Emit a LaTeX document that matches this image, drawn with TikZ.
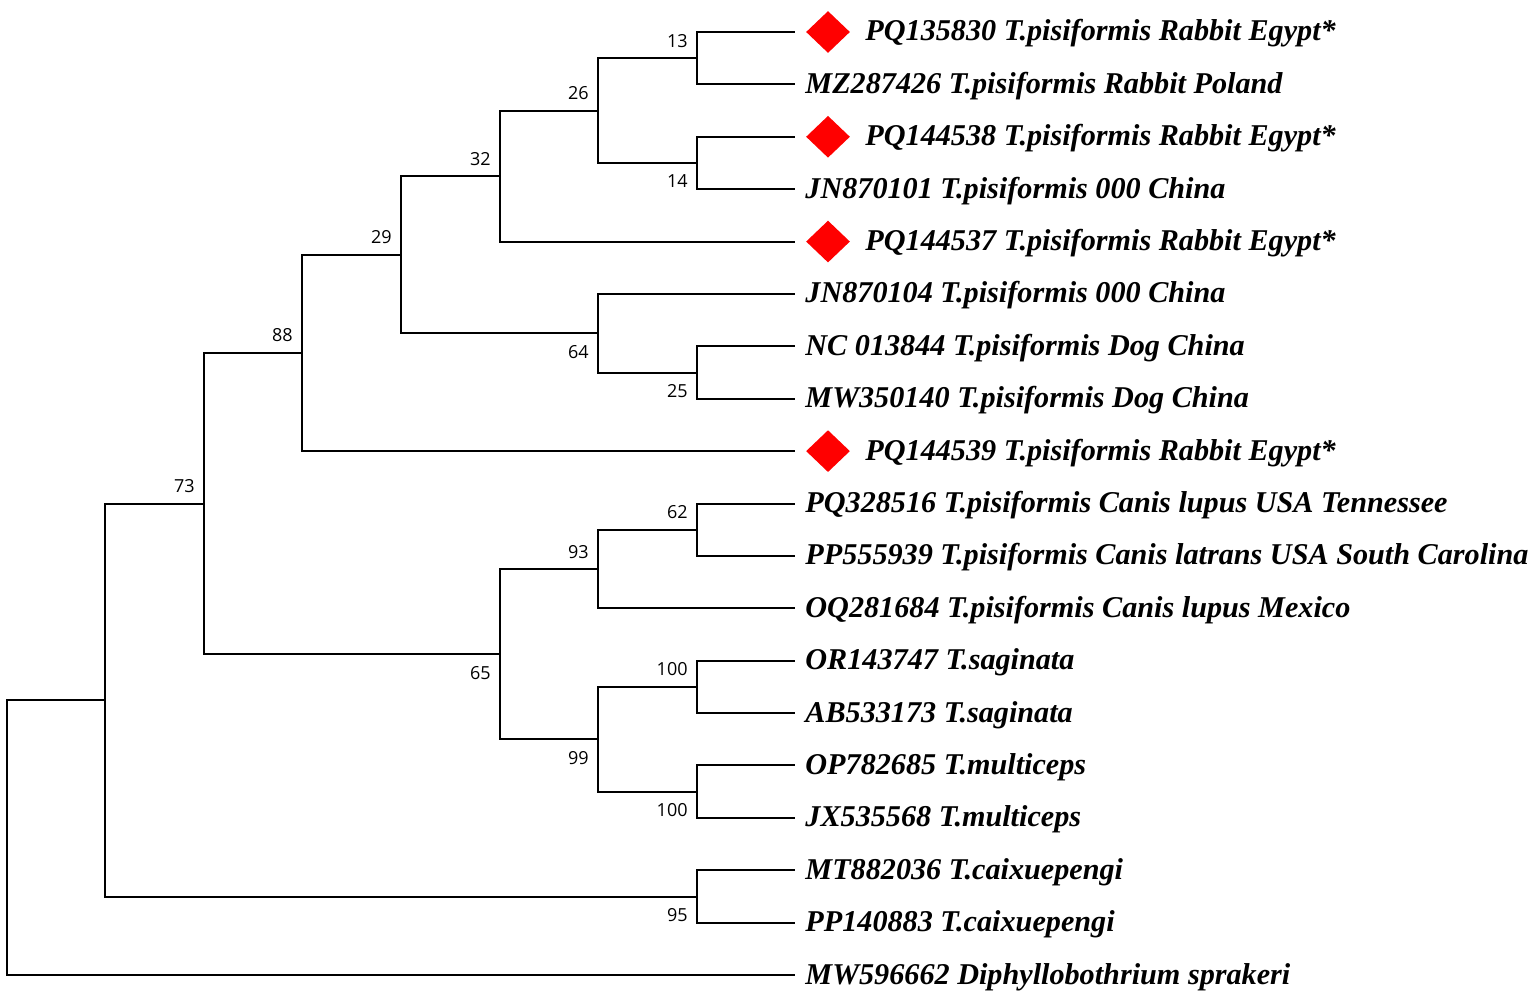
\documentclass[tikz,border=0pt]{standalone}
\usepackage{fontspec}
\setmainfont{Liberation Serif}
\newfontfamily\bootfont{Open Sans}
\usetikzlibrary{shapes.geometric}
\begin{document}
\begin{tikzpicture}[x=0.5pt,y=-0.5pt,
  branch/.style={line width=1pt,black},
  leaflabel/.style={anchor=base west,inner sep=0pt,font=\fontsize{15.1}{17}\selectfont\bfseries\itshape},
  boot/.style={inner sep=0pt,font=\bootfont\fontsize{9}{10}\selectfont},
  bootup/.style={boot,anchor=base east},
  bootdn/.style={boot,anchor=base east},
  mark diamond/.style={diamond,fill=red,draw=none,inner sep=0pt,minimum width=22pt,minimum height=21pt}]
\useasboundingbox (0,0) rectangle (1536,1000);
% leaf ends
\foreach \i in {1,...,19}{
  \coordinate (L\i) at (795,{32+52.39*(\i-1)});
}
% internal nodes
\coordinate (n13) at (697,58.2);
\coordinate (n14) at (697,163.0);
\coordinate (n26) at (598,110.6);
\coordinate (n32) at (500,176.1);
\coordinate (n25) at (697,372.5);
\coordinate (n64) at (598,333.2);
\coordinate (n29) at (401,254.7);
\coordinate (n88) at (302,352.9);
\coordinate (n62) at (697,529.7);
\coordinate (n93) at (598,569.0);
\coordinate (na) at (697,686.9);
\coordinate (nb) at (697,791.7);
\coordinate (n99) at (598,739.3);
\coordinate (n65) at (500,654.2);
\coordinate (n73) at (204,503.5);
\coordinate (n95) at (697,896.5);
\coordinate (nR) at (105,700.0);
\coordinate (root) at (7,837.5);
% branches
\draw[branch] (n13) |- (L1); \draw[branch] (n13) |- (L2);
\draw[branch] (n14) |- (L3); \draw[branch] (n14) |- (L4);
\draw[branch] (n26) |- (n13); \draw[branch] (n26) |- (n14);
\draw[branch] (n32) |- (n26); \draw[branch] (n32) |- (L5);
\draw[branch] (n25) |- (L7); \draw[branch] (n25) |- (L8);
\draw[branch] (n64) |- (L6); \draw[branch] (n64) |- (n25);
\draw[branch] (n29) |- (n32); \draw[branch] (n29) |- (n64);
\draw[branch] (n88) |- (n29); \draw[branch] (n88) |- (L9);
\draw[branch] (n62) |- (L10); \draw[branch] (n62) |- (L11);
\draw[branch] (n93) |- (n62); \draw[branch] (n93) |- (L12);
\draw[branch] (na) |- (L13); \draw[branch] (na) |- (L14);
\draw[branch] (nb) |- (L15); \draw[branch] (nb) |- (L16);
\draw[branch] (n99) |- (na); \draw[branch] (n99) |- (nb);
\draw[branch] (n65) |- (n93); \draw[branch] (n65) |- (n99);
\draw[branch] (n73) |- (n88); \draw[branch] (n73) |- (n65);
\draw[branch] (n95) |- (L17); \draw[branch] (n95) |- (L18);
\draw[branch] (nR) |- (n73); \draw[branch] (nR) |- (n95);
\draw[branch] (root) |- (nR); \draw[branch] (root) |- (L19);
% bootstrap values
\node[bootup] (b13) at ([shift={(-9,-11)}]n13) {13};
\node[bootdn] (b14) at ([shift={(-9,25)}]n14) {14};
\node[bootup] (b26) at ([shift={(-9,-11)}]n26) {26};
\node[bootup] (b32) at ([shift={(-9,-11)}]n32) {32};
\node[bootup] (b29) at ([shift={(-9,-11)}]n29) {29};
\node[bootdn] (b64) at ([shift={(-9,25)}]n64) {64};
\node[bootdn] (b25) at ([shift={(-9,25)}]n25) {25};
\node[bootup] (b88) at ([shift={(-9,-11)}]n88) {88};
\node[bootup] (b73) at ([shift={(-9,-11)}]n73) {73};
\node[bootup] (b62) at ([shift={(-9,-11)}]n62) {62};
\node[bootup] (b93) at ([shift={(-9,-11)}]n93) {93};
\node[bootdn] (b65) at ([shift={(-9,25)}]n65) {65};
\node[bootup] (ba) at ([shift={(-9,-11)}]na) {100};
\node[bootdn] (b99) at ([shift={(-9,25)}]n99) {99};
\node[bootdn] (bb) at ([shift={(-9,25)}]nb) {100};
\node[bootdn] (b95) at ([shift={(-9,25)}]n95) {95};
% diamonds
\node[mark diamond] (d1) at ([shift={(33,0)}]L1) {};
\node[mark diamond] (d3) at ([shift={(33,0)}]L3) {};
\node[mark diamond] (d5) at ([shift={(33,0)}]L5) {};
\node[mark diamond] (d9) at ([shift={(33,0)}]L9) {};
% leaf labels
\node[leaflabel] (t1) at ([shift={(70,9)}]L1) {PQ135830 T.pisiformis Rabbit Egypt*};
\node[leaflabel] (t2) at ([shift={(10,9)}]L2) {MZ287426 T.pisiformis Rabbit Poland};
\node[leaflabel] (t3) at ([shift={(70,9)}]L3) {PQ144538 T.pisiformis Rabbit Egypt*};
\node[leaflabel] (t4) at ([shift={(10,9)}]L4) {JN870101 T.pisiformis 000 China};
\node[leaflabel] (t5) at ([shift={(70,9)}]L5) {PQ144537 T.pisiformis Rabbit Egypt*};
\node[leaflabel] (t6) at ([shift={(10,9)}]L6) {JN870104 T.pisiformis 000 China};
\node[leaflabel] (t7) at ([shift={(10,9)}]L7) {NC 013844 T.pisiformis Dog China};
\node[leaflabel] (t8) at ([shift={(10,9)}]L8) {MW350140 T.pisiformis Dog China};
\node[leaflabel] (t9) at ([shift={(70,9)}]L9) {PQ144539 T.pisiformis Rabbit Egypt*};
\node[leaflabel] (t10) at ([shift={(10,9)}]L10) {PQ328516 T.pisiformis Canis lupus USA Tennessee};
\node[leaflabel] (t11) at ([shift={(10,9)}]L11) {PP555939 T.pisiformis Canis latrans USA South Carolina};
\node[leaflabel] (t12) at ([shift={(10,9)}]L12) {OQ281684 T.pisiformis Canis lupus Mexico};
\node[leaflabel] (t13) at ([shift={(10,9)}]L13) {OR143747 T.saginata};
\node[leaflabel] (t14) at ([shift={(10,9)}]L14) {AB533173 T.saginata};
\node[leaflabel] (t15) at ([shift={(10,9)}]L15) {OP782685 T.multiceps};
\node[leaflabel] (t16) at ([shift={(10,9)}]L16) {JX535568 T.multiceps};
\node[leaflabel] (t17) at ([shift={(10,9)}]L17) {MT882036 T.caixuepengi};
\node[leaflabel] (t18) at ([shift={(10,9)}]L18) {PP140883 T.caixuepengi};
\node[leaflabel] (t19) at ([shift={(10,9)}]L19) {MW596662 Diphyllobothrium sprakeri};
\end{tikzpicture}
\end{document}
